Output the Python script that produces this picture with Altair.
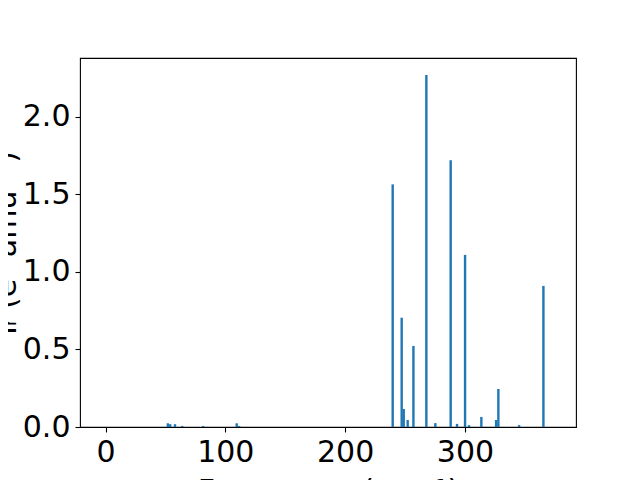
import altair as alt
import pandas as pd

freqs = [52, 54, 58, 64, 81.5, 109.5, 111.5, 239.7, 247.2, 248.9, 252.2, 257.0, 267.8,
         275.3, 288.1, 293.4, 300.1, 303.4, 313.7, 326.0, 327.9, 345.2, 365.5]
intens = [0.024, 0.018, 0.018, 0.007, 0.007, 0.024, 0.007, 1.565, 0.705, 0.116, 0.045,
          0.523, 2.27, 0.025, 1.72, 0.02, 1.11, 0.012, 0.065, 0.045, 0.245, 0.012, 0.91]
x_ticks = [0, 100, 200, 300]
y_ticks = [0.0, 0.5, 1.0, 1.5, 2.0]

df = pd.DataFrame({"f": freqs, "i": intens})

FONT = "DejaVu Sans"

chart = alt.Chart(df).transform_calculate(
    f0="datum.f - 1", f1="datum.f + 1"
).mark_bar(color="#1f77b4").encode(
    x=alt.X("f0:Q", scale=alt.Scale(domain=[-21.3, 392.7], nice=False, zero=False),
            axis=alt.Axis(values=x_ticks, format="d", title="Frequency (cm⁻¹)",
                          titleBaseline="alphabetic", titleY=73, titleX=248,
                          titleAnchor="middle")),
    x2="f1:Q",
    y=alt.Y("i:Q", scale=alt.Scale(domain=[0, 2.38], nice=False),
            axis=alt.Axis(values=y_ticks, format=".1f", title="Iᵣ (e² amu⁻¹)",
                          titleAngle=270, titleBaseline="alphabetic",
                          titleX=-65, titleY=184.5, titleAnchor="middle")),
    y2=alt.datum(0),
).properties(
    width=496, height=369,
    padding={"left": 72, "top": 50, "right": 56, "bottom": 80},
    autosize=alt.AutoSizeParams(type="none"),
).configure_axis(
    grid=False,
    domain=False,
    tickColor="black", tickSize=5, tickWidth=1.1,
    labelFont=FONT, labelFontSize=30, labelColor="black", labelPadding=5,
    titleFont=FONT, titleFontSize=30, titleColor="black", titleFontWeight="normal",
).configure_view(
    stroke="black", strokeWidth=1.1,
)

chart.save("out.html", embed_options={"renderer": "svg", "actions": False})
